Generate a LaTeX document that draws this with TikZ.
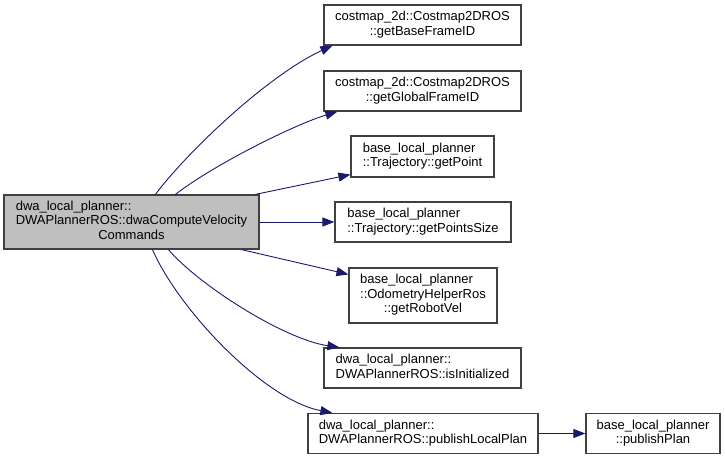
\documentclass[tikz,border=0pt]{standalone}
\usepackage{fontspec}
\setmainfont{Liberation Sans}
\usetikzlibrary{arrows.meta}
\definecolor{edgeblue}{HTML}{191970}
\definecolor{boxgray}{HTML}{BFBFBF}
\definecolor{boxline}{HTML}{404040}
\newcommand{\fnlabel}[1]{\begin{tabular}{@{}l@{}}#1\end{tabular}}
\newcommand{\lastln}[1]{\multicolumn{1}{@{}c@{}}{#1}}
\tikzset{every node/.append style={font=\fontsize{13}{14.5}\selectfont}}

\begin{document}
\begin{tikzpicture}[x=1pt,y=1pt,>={Triangle[length=12pt,width=9pt]},
  fn/.style={draw=boxline,line width=1.2pt,fill=white,inner sep=0pt},
  call/.style={->,edgeblue,line width=0.9pt}]
\useasboundingbox (0,0) rectangle (725,460);
% caller
\node[fn,fill=boxgray,minimum width=255pt,minimum height=54pt] (main) at (131.5,238)
  {\fnlabel{dwa\_local\_planner::\\DWAPlannerROS::dwaComputeVelocity\\\lastln{Commands}}};
% callees
\node[fn,minimum width=197pt,minimum height=40pt] (gbf) at (422.5,435)
  {\fnlabel{costmap\_2d::Costmap2DROS\\\lastln{::getBaseFrameID}}};
\node[fn,minimum width=197pt,minimum height=40pt] (ggf) at (422.5,369)
  {\fnlabel{costmap\_2d::Costmap2DROS\\\lastln{::getGlobalFrameID}}};
\node[fn,minimum width=143pt,minimum height=41pt] (gp) at (422.5,303.5)
  {\fnlabel{base\_local\_planner\\\lastln{::Trajectory::getPoint}}};
\node[fn,minimum width=176pt,minimum height=40pt] (gps) at (423,238)
  {\fnlabel{base\_local\_planner\\\lastln{::Trajectory::getPointsSize}}};
\node[fn,minimum width=148pt,minimum height=55pt] (grv) at (423,164.5)
  {\fnlabel{base\_local\_planner\\::OdometryHelperRos\\\lastln{::getRobotVel}}};
\node[fn,minimum width=197pt,minimum height=40pt] (isi) at (422.5,92)
  {\fnlabel{dwa\_local\_planner::\\\lastln{DWAPlannerROS::isInitialized}}};
\node[fn,minimum width=230pt,minimum height=40pt] (plp) at (423,26.5)
  {\fnlabel{dwa\_local\_planner::\\\lastln{DWAPlannerROS::publishLocalPlan}}};
\node[fn,minimum width=134pt,minimum height=40pt] (pp) at (653,26.5)
  {\fnlabel{base\_local\_planner\\\lastln{::publishPlan}}};
% calls
\draw[call] ([xshift=152pt]main.north west) .. controls +(34,45) and +(-63,-29) .. ([xshift=9pt]gbf.south west);
\draw[call] ([xshift=172pt]main.north west) .. controls +(39,30) and +(-43,-13) .. ([xshift=14pt]ggf.south west);
\draw[call] ([xshift=252pt]main.north west) -- ([yshift=3pt]gp.south west);
\draw[call] (main.east) -- (gps.west);
\draw[call] ([xshift=238pt]main.south west) -- ([yshift=-7pt]grv.north west);
\draw[call] ([xshift=165pt]main.south west) .. controls +(31,-36) and +(-55,8) .. ([xshift=16pt]isi.north west);
\draw[call] ([xshift=149pt]main.south west) .. controls +(27,-61) and +(-68,13) .. ([xshift=25pt]plp.north west);
\draw[call] (plp.east) -- (pp.west);
\end{tikzpicture}
\end{document}
